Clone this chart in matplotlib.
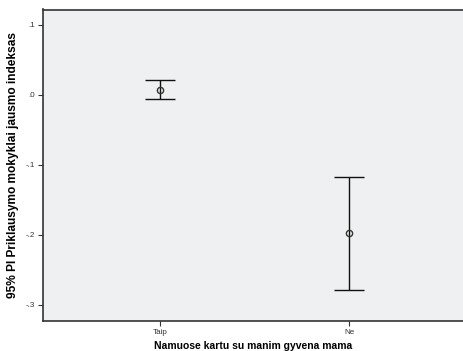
import matplotlib.pyplot as plt
import numpy as np

plt.rcParams["font.family"] = ["Liberation Sans", "DejaVu Sans"]

groups = ["Taip", "Ne"]
means = [0.0071, -0.197]
ci_low = [-0.0057, -0.279]
ci_high = [0.0214, -0.117]
yticks = [0.1, 0.0, -0.1, -0.2, -0.3]
ytick_labels = [".1", ".0", "-.1", "-.2", "-.3"]

fig = plt.figure(figsize=(4.63, 3.51), dpi=100)
ax = fig.add_axes([43 / 463, 30 / 351, 420 / 463, 311.5 / 351])
ax.set_facecolor("#eff0f2")

x = np.arange(len(groups))
m = np.array(means)
err = [m - np.array(ci_low), np.array(ci_high) - m]
ax.errorbar(x, m, yerr=err, fmt="o", ms=4.5, mfc="none", mec="#333333", mew=1,
            ecolor="#111111", elinewidth=1, capsize=11, capthick=1)

ax.set_xlim(-0.619, 1.603)
ax.set_ylim(-0.3229, 0.1221)
ax.set_xticks(x)
ax.set_xticklabels(groups)
ax.set_yticks(yticks)
ax.set_yticklabels(ytick_labels)
ax.tick_params(labelsize=5.8, length=3.5, width=0.8, colors="#333333", pad=2)

for s in ["left", "bottom", "top"]:
    ax.spines[s].set_color("#333333")
    ax.spines[s].set_linewidth(1.2)
ax.spines["right"].set_visible(False)

ax.set_xlabel("Namuose kartu su manim gyvena mama", fontsize=7.5, fontweight="bold", labelpad=4)
ax.set_ylabel("95% PI Priklausymo mokyklai jausmo indeksas", fontsize=8.6, fontweight="bold", labelpad=5)

fig.savefig("out.png", dpi=100)
